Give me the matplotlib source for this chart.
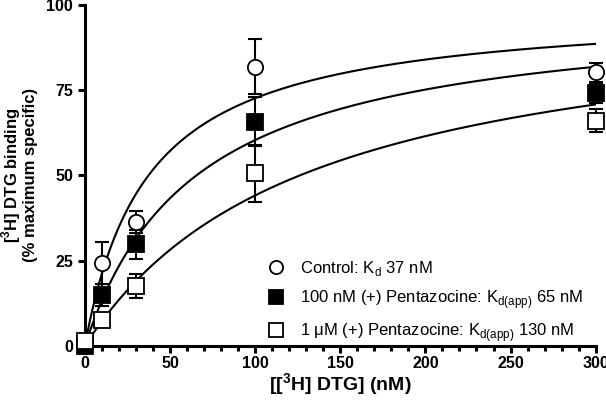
import matplotlib.pyplot as plt
import numpy as np

plt.rcParams['font.family'] = ['Liberation Sans', 'DejaVu Sans']

# concentrations of [3H] DTG (nM)
conc = [0, 10, 30, 100, 300]

# specific binding, % of maximum, with SEM
control = [0.0, 24.4, 36.3, 81.9, 80.2]
control_err = [0.0, 6.2, 3.3, 8.1, 2.8]
pz100 = [0.0, 15.0, 29.8, 65.8, 74.1]
pz100_err = [0.0, 3.2, 4.2, 7.2, 3.0]
pz1u = [1.5, 7.6, 17.6, 50.6, 66.0]
pz1u_err = [0.0, 1.5, 3.5, 8.3, 3.4]

# one-site fit parameters
kd = [37, 65, 130]
bmax = [99.5, 99.6, 101.5]

labels = ['Control: K$_\\mathregular{d}$ 37 nM',
          '100 nM (+) Pentazocine: K$_\\mathregular{d(app)}$ 65 nM',
          '1 \u03bcM (+) Pentazocine: K$_\\mathregular{d(app)}$ 130 nM']

fig = plt.figure(figsize=(6.06, 4.07), dpi=100)
ax = fig.add_axes([0.140, 0.150, 0.843, 0.838])

xs = np.linspace(0, 300, 400)
for k, b in zip(kd, bmax):
    ax.plot(xs, b * xs / (k + xs), color='black', lw=1.5, zorder=2)

series = [(control, control_err, 'o', 'white'),
          (pz100, pz100_err, 's', 'black'),
          (pz1u, pz1u_err, 's', 'white')]
for (ys, es, m, fc) in series:
    ax.errorbar(conc, ys, yerr=es, fmt='none', ecolor='black', elinewidth=1.5,
                capsize=5.3, capthick=1.5, zorder=3, clip_on=False)
    ax.plot(conc, ys, linestyle='none', marker=m, ms=11, mfc=fc,
            mec='black', mew=1.3, zorder=4, clip_on=False)

# legend handles drawn a bit smaller than the data markers
handles = [plt.Line2D([], [], linestyle='none', marker=m, ms=9.5, mfc=fc,
                      mec='black', mew=1.3)
           for (_, _, m, fc) in series]

ax.set_xlim(0, 300)
ax.set_ylim(0, 100)
ax.set_xticks(np.arange(0, 301, 50))
ax.set_xticks(np.arange(0, 301, 10), minor=True)
ax.set_yticks([0, 25, 50, 75, 100])

for s in ['top', 'right']:
    ax.spines[s].set_visible(False)
for s in ['left', 'bottom']:
    ax.spines[s].set_linewidth(2.2)
ax.tick_params(which='major', length=5, width=2.2, labelsize=11.5)
ax.tick_params(axis='y', pad=3.5)
ax.tick_params(axis='x', pad=2)
ax.tick_params(which='minor', length=3.5, width=2.2)
for t in ax.get_xticklabels() + ax.get_yticklabels():
    t.set_fontweight('bold')

ax.set_xlabel('[[$^\\mathregular{3}$H] DTG] (nM)', fontsize=14, fontweight='bold')
ax.xaxis.set_label_coords(0.5, -0.075)
ax.set_ylabel('[$^\\mathregular{3}$H] DTG binding\n(% maximum specific)', fontsize=12,
              fontweight='bold', linespacing=1.0)
ax.yaxis.set_label_coords(-0.092, 0.5)

ax.legend(handles=handles, labels=labels, loc='upper left',
          bbox_to_anchor=(0.362, 0.255), frameon=False, fontsize=12,
          handlelength=0.8, handletextpad=1.0, labelspacing=0.6,
          borderpad=0, borderaxespad=0)

fig.savefig('out.png', dpi=100)
